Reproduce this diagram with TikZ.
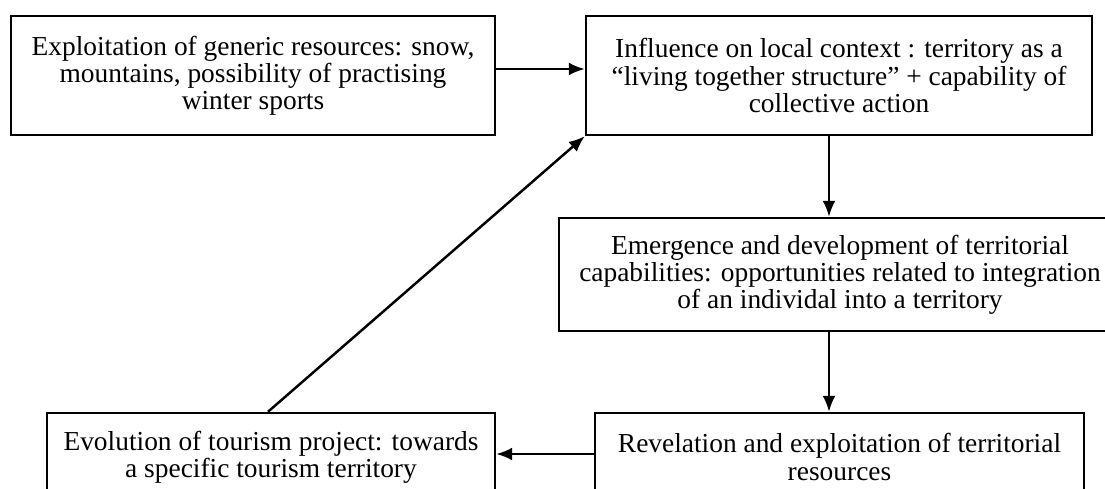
\documentclass[tikz,border=0pt]{standalone}
\usepackage{fontspec}
\setmainfont{Liberation Serif}
\usepackage{tikz}
\usetikzlibrary{arrows.meta}

\begin{document}
\begin{tikzpicture}[x=0.2mm,y=-0.2mm,
  box/.style={draw,line width=1.4pt,align=center,inner sep=0pt,
    font=\fontsize{15.6pt}{15.4pt}\selectfont},
  link/.style={line width=1.4pt,-{Latex[length=3.2mm,width=2.6mm]}}]
\useasboundingbox (0,0) rectangle (1105,488);
\clip (0,0) rectangle (1105,488);
\node (res) at (253,75.5) [box,minimum width=484*0.2mm,minimum height=119*0.2mm]
  {Exploitation of generic resources: snow,\\ mountains, possibility of practising\\ winter sports};
\node (ctx) at (839,75.5) [box,minimum width=506*0.2mm,minimum height=119*0.2mm]
  {Influence on local context : territory as a\\ ``living together structure'' + capability of\\ collective action};
\node (cap) at (840,274.5) [box,minimum width=562*0.2mm,minimum height=113*0.2mm]
  {Emergence and development of territorial\\ capabilities: opportunities related to integration\\ of an individal into a territory};
\node (rev) at (839.5,457) [box,minimum width=489*0.2mm,minimum height=88*0.2mm]
  {Revelation and exploitation of territorial\\ resources};
\node (evo) at (271,457) [box,minimum width=448*0.2mm,minimum height=88*0.2mm]
  {Evolution of tourism project: towards\\ a specific tourism territory};
\draw [link] ([yshift=1.3mm]res.east) -- ([yshift=1.3mm]ctx.west);
\draw [link] ([xshift=-2mm]ctx.south) -- ([xshift=-2mm]ctx.south |- cap.north);
\draw [link] ([xshift=-2.2mm]cap.south) -- ([xshift=-2.2mm]cap.south |- rev.north);
\draw [link] ([yshift=0.6mm]rev.west) -- ([yshift=0.6mm]evo.east);
\draw [link] ([xshift=-0.6mm]evo.north) -- (ctx.south west);
\end{tikzpicture}
\end{document}
